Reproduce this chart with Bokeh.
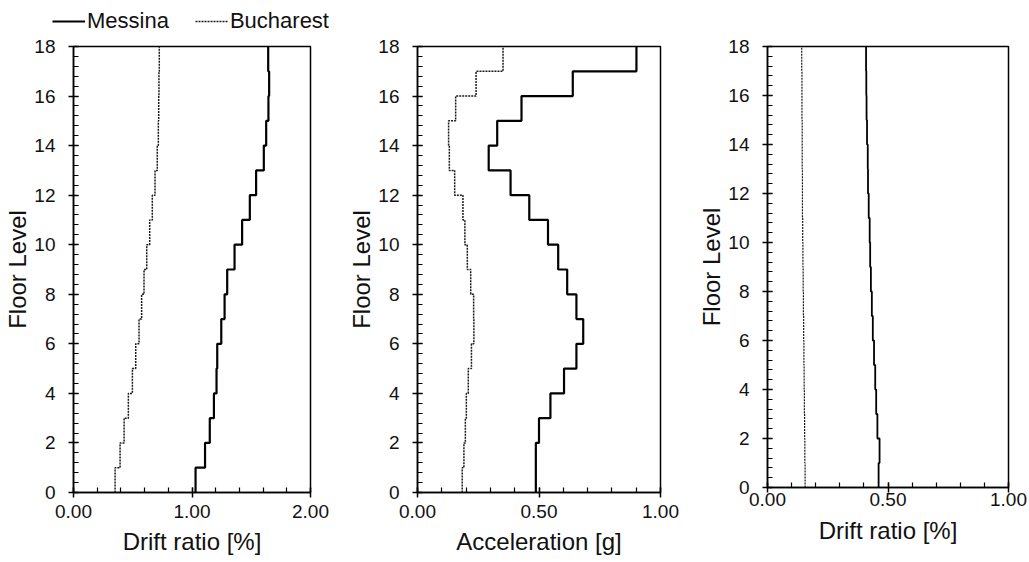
import numpy as np
from bokeh.plotting import figure
from bokeh.layouts import row, column
from bokeh.models import Range1d, FixedTicker, NumeralTickFormatter, Legend, LegendItem
from bokeh.embed import file_html
from bokeh.resources import INLINE

# ---------------- data ----------------
floors = list(range(0, 19))  # floor levels 0..18
# storey values, storey i spans floor i -> i+1
drift_messina = [1.03, 1.11, 1.15, 1.185, 1.207, 1.213, 1.247, 1.275, 1.297,
                 1.359, 1.423, 1.488, 1.541, 1.606, 1.626, 1.645, 1.651, 1.643]
drift_bucharest = [0.351, 0.393, 0.427, 0.463, 0.497, 0.525, 0.553, 0.575, 0.595,
                   0.618, 0.643, 0.665, 0.688, 0.707, 0.716, 0.719, 0.721, 0.724]
accel_messina = [0.487, 0.487, 0.50, 0.547, 0.603, 0.654, 0.682, 0.654, 0.616,
                 0.579, 0.537, 0.460, 0.383, 0.293, 0.328, 0.428, 0.639, 0.901]
accel_bucharest = [0.184, 0.191, 0.197, 0.201, 0.209, 0.222, 0.232, 0.231, 0.219,
                   0.205, 0.195, 0.187, 0.153, 0.131, 0.128, 0.157, 0.241, 0.352]
drift2_messina = [0.461, 0.465, 0.456, 0.451, 0.447, 0.442, 0.437, 0.433, 0.429,
                  0.426, 0.424, 0.420, 0.417, 0.416, 0.413, 0.411, 0.410, 0.409]
drift2_bucharest = [0.156, 0.155, 0.154, 0.153, 0.152, 0.151, 0.150, 0.149, 0.148,
                    0.147, 0.146, 0.145, 0.145, 0.144, 0.144, 0.143, 0.143, 0.142]

x_labels = ["Drift ratio [%]", "Acceleration [g]", "Drift ratio [%]"]
y_label = "Floor Level"
series_names = ["Messina", "Bucharest"]

FONT = "Liberation Sans"
MESSINA_STYLE = dict(line_color="black")
BUCH_STYLE = dict(line_color="#1a1a1a", line_dash="2 1")


def step_path(vals):
    xs = np.repeat(np.asarray(vals, dtype=float), 2)
    ys = np.repeat(np.asarray(floors, dtype=float), 2)[1:-1]
    return xs, ys


def make_fig(xmax, xmajor, xminor_step, xlabel, fw, fh, bl, br, bt, bb, xs1, xs2):
    p = figure(frame_width=fw, frame_height=fh, output_backend="svg",
               toolbar_location=None,
               x_range=Range1d(0, xmax), y_range=Range1d(0, 18),
               min_border_left=bl, min_border_right=br,
               min_border_top=bt, min_border_bottom=bb)
    p.xgrid.visible = False
    p.ygrid.visible = False
    p.outline_line_color = "black"
    p.outline_line_width = 1.5
    p.outline_line_alpha = 1
    p.background_fill_color = "white"
    p.border_fill_color = "white"
    xminor = list(np.round(np.arange(0, xmax + 1e-9, xminor_step), 4))
    p.xaxis.ticker = FixedTicker(ticks=xmajor, minor_ticks=xminor)
    yminor = list(np.round(np.arange(0, 18 + 1e-9, 0.4), 4))
    p.yaxis.ticker = FixedTicker(ticks=list(range(0, 19, 2)), minor_ticks=yminor)
    p.xaxis.formatter = NumeralTickFormatter(format="0.00")
    p.xaxis.axis_label = xlabel
    p.yaxis.axis_label = y_label
    for ax in (p.xaxis, p.yaxis):
        ax.axis_line_color = "black"
        ax.axis_line_width = 1.5
        ax.major_tick_line_color = "black"
        ax.major_tick_line_width = 1.5
        ax.minor_tick_line_color = "black"
        ax.minor_tick_line_width = 1.2
        ax.major_tick_in = 5
        ax.major_tick_out = 5
        ax.minor_tick_in = 5
        ax.minor_tick_out = 0
        ax.major_label_text_font = FONT
        ax.major_label_text_font_size = "19px"
        ax.major_label_text_color = "#111111"
        ax.axis_label_text_font = FONT
        ax.axis_label_text_font_size = "24px"
        ax.axis_label_text_font_style = "normal"
        ax.axis_label_text_color = "#111111"
    p.xaxis.major_label_standoff = xs1
    p.xaxis.axis_label_standoff = xs2
    p.yaxis.major_label_standoff = 13
    p.yaxis.axis_label_standoff = 0
    return p


p1 = make_fig(2.0, [0, 1, 2], 0.2, x_labels[0], 237, 446, 73, 34, 12, 69, 7, 7)
p2 = make_fig(1.0, [0, 0.5, 1], 0.1, x_labels[1], 243, 446, 73, 34, 12, 69, 7, 7)
p3 = make_fig(1.0, [0, 0.5, 1], 0.1, x_labels[2], 241, 441, 73, 20, 12, 74, 0, 8)

for p, m, b, mw, bw in ((p1, drift_messina, drift_bucharest, 2.2, 1.5),
                        (p2, accel_messina, accel_bucharest, 2.2, 1.5),
                        (p3, drift2_messina, drift2_bucharest, 1.8, 1.2)):
    xs, ys = step_path(m)
    p.line(xs, ys, line_width=mw, **MESSINA_STYLE)
    xs, ys = step_path(b)
    p.line(xs, ys, line_width=bw, **BUCH_STYLE)

# legend strip above the panels (proxy lines lie outside its visible range)
lf = figure(width=420, height=34, output_backend="svg", toolbar_location=None,
            x_range=Range1d(0, 1), y_range=Range1d(0, 1),
            min_border_left=52, min_border_right=0, min_border_top=0,
            min_border_bottom=0)
lf.axis.visible = False
lf.xgrid.visible = False
lf.ygrid.visible = False
lf.outline_line_color = None
lf.background_fill_color = "white"
lf.border_fill_color = "white"
rm = lf.line(x=[-2, -1], y=[-2, -1], line_width=2.0, **MESSINA_STYLE)
rb = lf.line(x=[-2, -1], y=[-2, -1], line_width=1.3, **BUCH_STYLE)
legend = Legend(items=[LegendItem(label=series_names[0], renderers=[rm]),
                       LegendItem(label=series_names[1], renderers=[rb])],
                orientation="horizontal", location="bottom_left",
                label_text_font=FONT, label_text_font_size="22px",
                label_text_color="#111111",
                glyph_width=33, glyph_height=20, label_height=20,
                label_standoff=2, spacing=26, padding=0, margin=0,
                border_line_alpha=0, background_fill_alpha=0)
lf.add_layout(legend, "center")

layout = column(lf, row(p1, p2, p3))
open("out.html", "w").write(file_html(layout, INLINE))
